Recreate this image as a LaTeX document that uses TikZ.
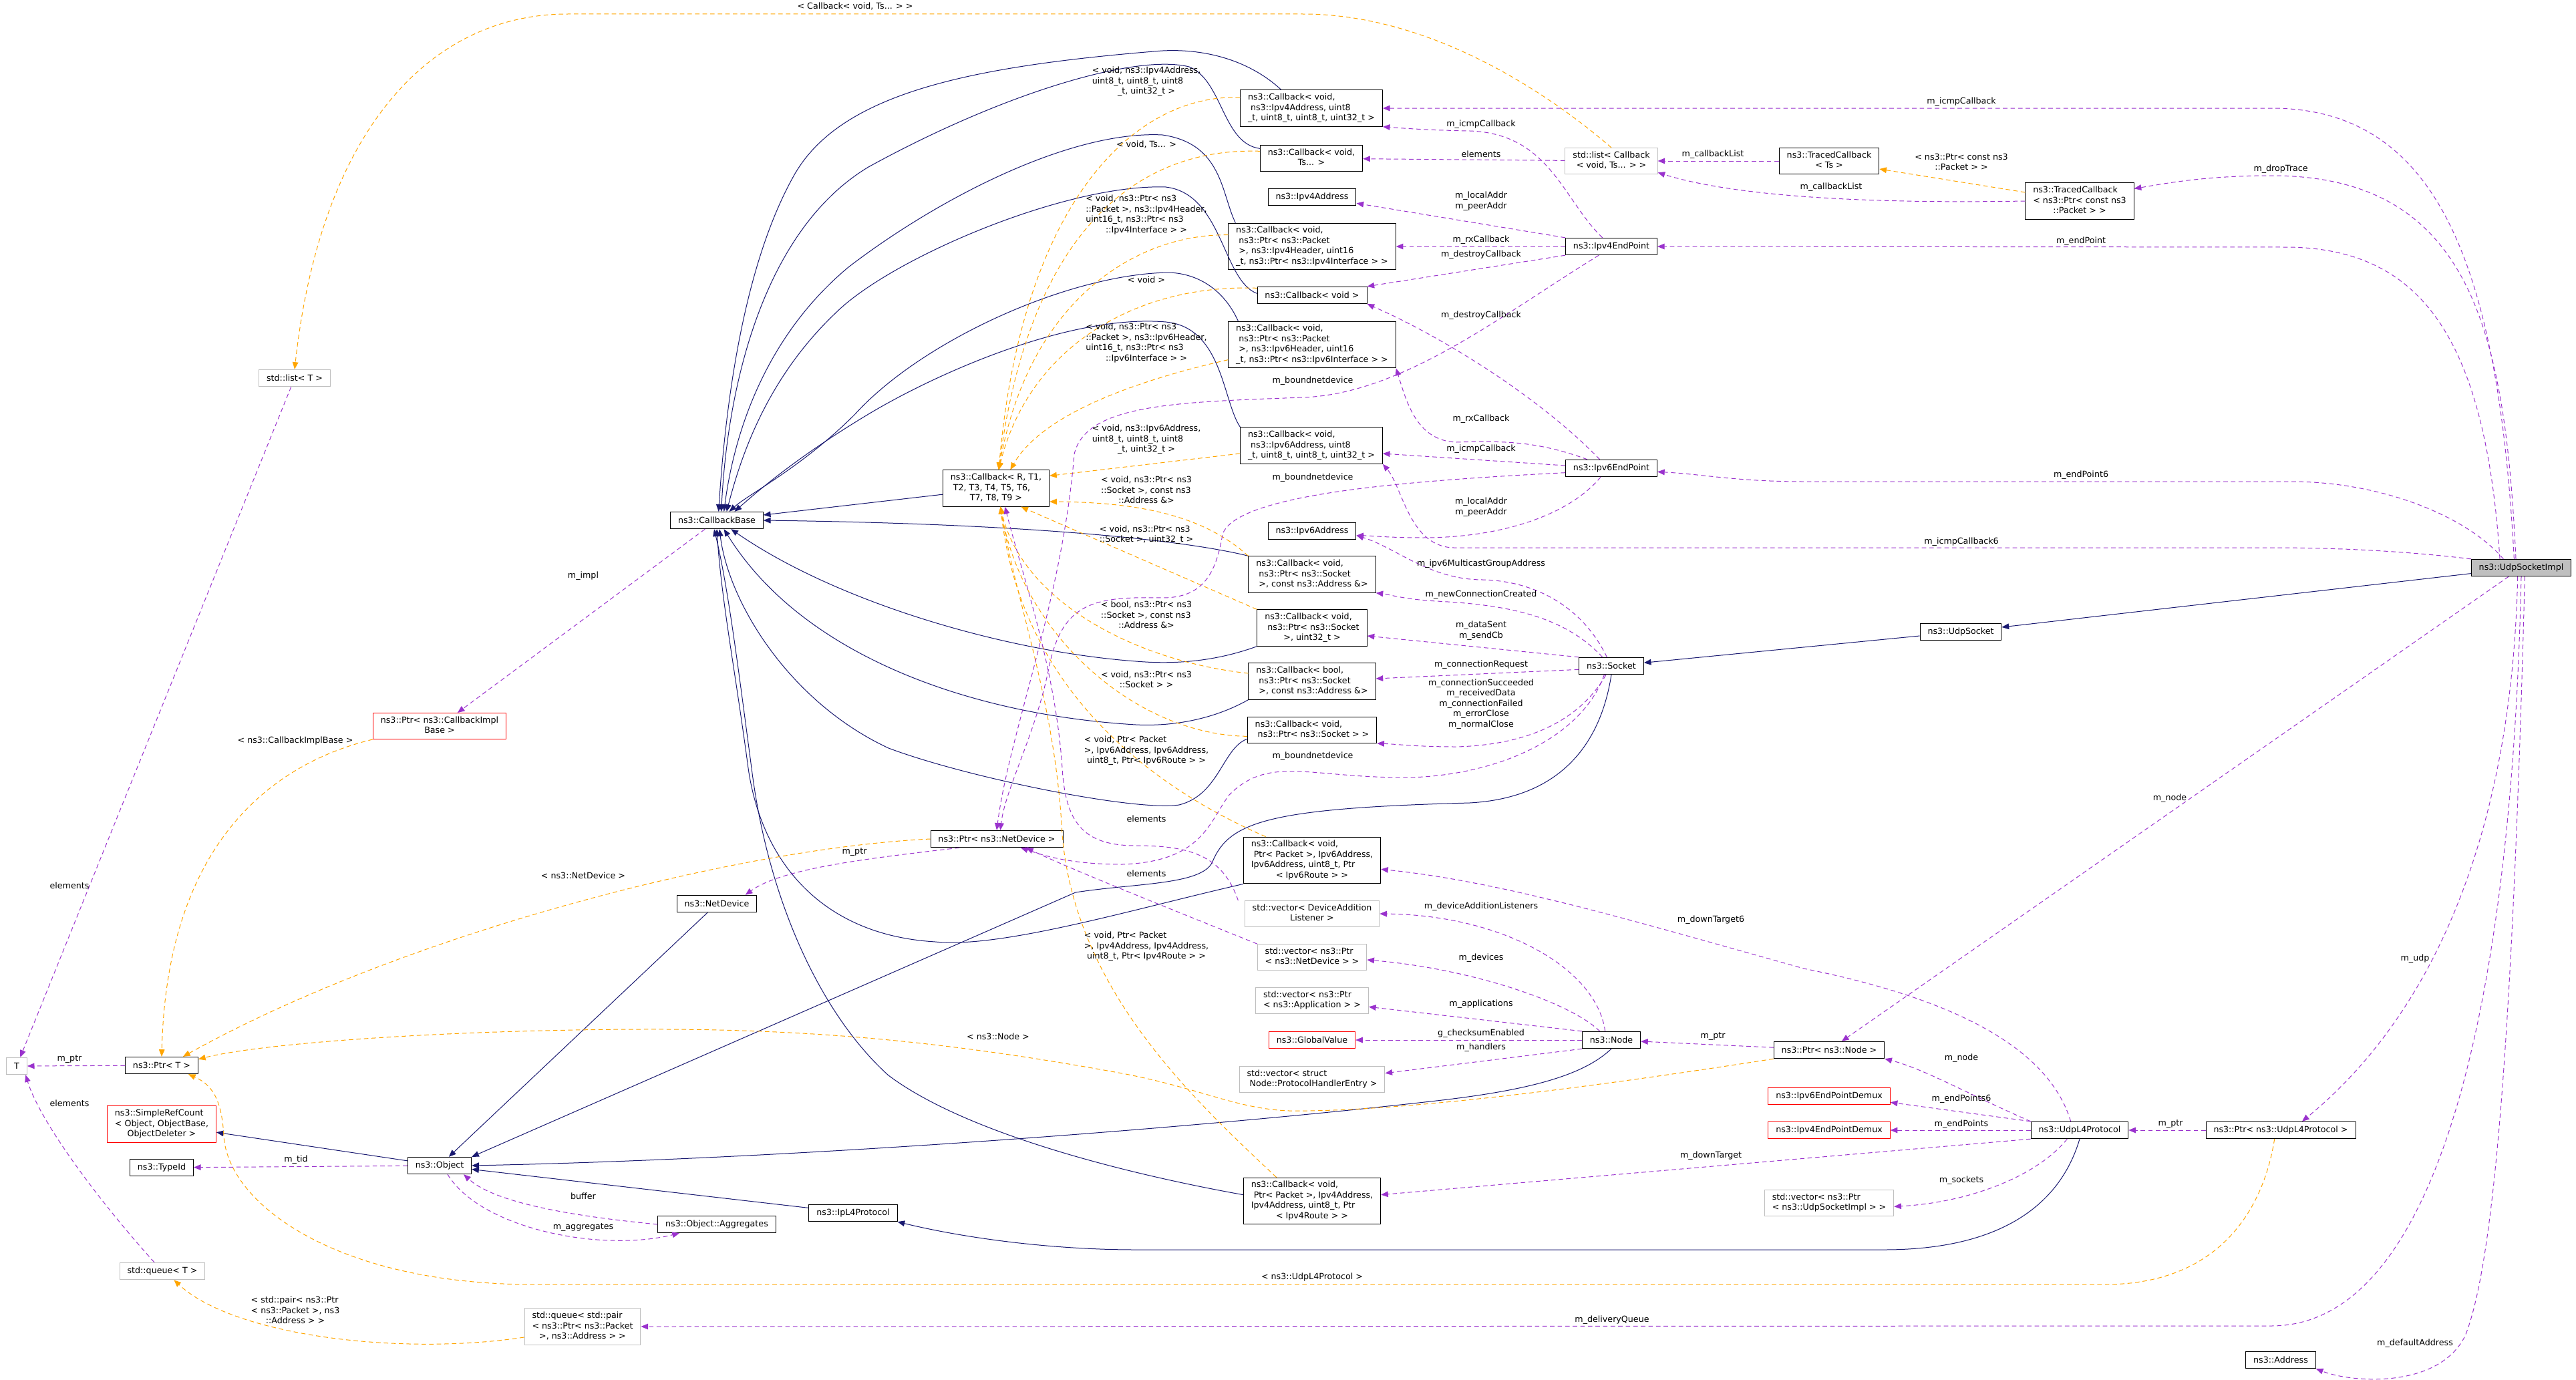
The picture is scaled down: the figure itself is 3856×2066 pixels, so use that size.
\documentclass[tikz,border=0pt]{standalone}
\usepackage{fontspec}
\setmainfont{DejaVu Sans}
\usepackage{tikz}
\usetikzlibrary{arrows.meta,positioning}
\definecolor{Navy}{HTML}{191970}
\definecolor{Orchid}{HTML}{9A32CD}
\definecolor{Amber}{HTML}{FFA500}
\definecolor{Frame}{HTML}{BFBFBF}
\definecolor{Cut}{HTML}{FF0000}
\newcommand{\gv}[2]{\begin{tabular}{@{}l@{}}#1\\\multicolumn{1}{@{}c@{}}{#2}\end{tabular}}

\begin{document}
\begin{tikzpicture}[
  x=0.75pt,y=-0.75pt,
  font=\fontsize{9.5}{11.6}\selectfont,
  cls/.style={draw=black,fill=white,line width=0.75pt,inner xsep=8.6pt,inner ysep=3pt,minimum height=19pt,align=center},
  ext/.style={cls,draw=Frame},
  trunc/.style={cls,draw=Cut},
  self/.style={cls,fill=Frame},
  wire/.style={-{Triangle[length=8pt,width=6.5pt]},line width=0.75pt},
  inh/.style={wire,draw=Navy},
  coll/.style={wire,draw=Orchid,dash pattern=on 5pt off 3.5pt},
  tmpl/.style={wire,draw=Amber,dash pattern=on 5pt off 3.5pt},
  lbl/.style={inner sep=0pt,align=center}
]
\useasboundingbox (0,0) rectangle (3856,2066);

\node[ext] (stdlistT) at (441,566) {std::list< T >};
\node[ext] (T) at (25,1596) {T};
\node[cls] (ptrT) at (242,1595) {ns3::Ptr< T >};
\node[trunc] (ptrImpl) at (658,1087) {\gv{ns3::Ptr< ns3::CallbackImpl}{Base >}};
\node[trunc] (refcount) at (242,1683) {\gv{ns3::SimpleRefCount\\< Object, ObjectBase,}{ObjectDeleter >}};
\node[cls] (typeid) at (242,1748) {ns3::TypeId};
\node[cls] (object) at (658,1745) {ns3::Object};
\node[cls] (aggregates) at (1073,1833) {ns3::Object::Aggregates};
\node[ext] (stdqueueT) at (243,1903) {std::queue< T >};
\node[ext] (queuePair) at (872,1986) {\gv{std::queue< std::pair\\< ns3::Ptr< ns3::Packet}{>, ns3::Address > >}};
\node[cls] (netdevice) at (1073,1353) {ns3::NetDevice};
\node[cls] (cbBase) at (1073,779) {ns3::CallbackBase};
\node[cls] (cbTmpl) at (1491,731) {\gv{ns3::Callback< R, T1,\\\ T2, T3, T4, T5, T6,}{T7, T8, T9 >}};
\node[cls] (ptrNetDev) at (1492,1256) {ns3::Ptr< ns3::NetDevice >};
\node[cls] (ipl4) at (1277,1816) {ns3::IpL4Protocol};

\node[cls] (cbIcmp4) at (1963,162) {\gv{ns3::Callback< void,\\\ ns3::Ipv4Address, uint8}{\_t, uint8\_t, uint8\_t, uint32\_t >}};
\node[cls] (cbTs) at (1963,237) {\gv{ns3::Callback< void,}{Ts... >}};
\node[cls] (ipv4addr) at (1964,295) {ns3::Ipv4Address};
\node[cls] (cbRx4) at (1964,369) {\gv{ns3::Callback< void,\\\ ns3::Ptr< ns3::Packet\\\ >, ns3::Ipv4Header, uint16}{\_t, ns3::Ptr< ns3::Ipv4Interface > >}};
\node[cls] (cbVoid) at (1964,442) {ns3::Callback< void >};
\node[cls] (cbRx6) at (1964,516) {\gv{ns3::Callback< void,\\\ ns3::Ptr< ns3::Packet\\\ >, ns3::Ipv6Header, uint16}{\_t, ns3::Ptr< ns3::Ipv6Interface > >}};
\node[cls] (cbIcmp6) at (1963,667) {\gv{ns3::Callback< void,\\\ ns3::Ipv6Address, uint8}{\_t, uint8\_t, uint8\_t, uint32\_t >}};
\node[cls] (ipv6addr) at (1964,795) {ns3::Ipv6Address};
\node[cls] (cbNewConn) at (1964,860) {\gv{ns3::Callback< void,\\\ ns3::Ptr< ns3::Socket}{\ >, const ns3::Address \&>}};
\node[cls] (cbSent) at (1964,940) {\gv{ns3::Callback< void,\\\ ns3::Ptr< ns3::Socket}{>, uint32\_t >}};
\node[cls] (cbConnReq) at (1964,1020) {\gv{ns3::Callback< bool,\\\ ns3::Ptr< ns3::Socket}{\ >, const ns3::Address \&>}};
\node[cls] (cbSock) at (1964,1093) {\gv{ns3::Callback< void,}{\ ns3::Ptr< ns3::Socket > >}};
\node[cls] (cbDown6) at (1964,1288) {\gv{ns3::Callback< void,\\\ Ptr< Packet >, Ipv6Address,\\Ipv6Address, uint8\_t, Ptr}{< Ipv6Route > >}};
\node[ext] (vecListener) at (1964,1368) {\gv{std::vector< DeviceAddition}{Listener >}};
\node[ext] (vecDev) at (1964,1433) {\gv{std::vector< ns3::Ptr}{< ns3::NetDevice > >}};
\node[ext] (vecApp) at (1964,1498) {\gv{std::vector< ns3::Ptr}{< ns3::Application > >}};
\node[trunc] (globalval) at (1964,1557) {ns3::GlobalValue};
\node[ext] (vecHandler) at (1964,1616) {\gv{std::vector< struct}{\ Node::ProtocolHandlerEntry >}};
\node[cls] (cbDown4) at (1964,1798) {\gv{ns3::Callback< void,\\\ Ptr< Packet >, Ipv4Address,\\Ipv4Address, uint8\_t, Ptr}{< Ipv4Route > >}};

\node[ext] (listCb) at (2412,241) {\gv{std::list< Callback}{< void, Ts... > >}};
\node[cls] (tracedTs) at (2738,241) {\gv{ns3::TracedCallback}{< Ts >}};
\node[cls] (tracedPkt) at (3113,301) {\gv{ns3::TracedCallback\\< ns3::Ptr< const ns3}{::Packet > >}};
\node[cls] (ep4) at (2412,369) {ns3::Ipv4EndPoint};
\node[cls] (ep6) at (2412,701) {ns3::Ipv6EndPoint};
\node[cls] (socket) at (2412,997) {ns3::Socket};
\node[cls] (udpsocket) at (2935,946) {ns3::UdpSocket};
\node[self] (impl) at (3774,850) {ns3::UdpSocketImpl};
\node[cls] (nsnode) at (2412,1557) {ns3::Node};
\node[cls] (ptrNode) at (2738,1572) {ns3::Ptr< ns3::Node >};
\node[trunc] (demux6) at (2738,1641) {ns3::Ipv6EndPointDemux};
\node[trunc] (demux4) at (2738,1692) {ns3::Ipv4EndPointDemux};
\node[cls] (udpl4) at (3113,1692) {ns3::UdpL4Protocol};
\node[cls] (ptrUdp) at (3414,1692) {ns3::Ptr< ns3::UdpL4Protocol >};
\node[ext] (vecSock) at (2738,1801) {\gv{std::vector< ns3::Ptr}{< ns3::UdpSocketImpl > >}};
\node[cls] (address) at (3414,2036) {ns3::Address};

\draw[inh] (impl) -- (udpsocket);
\draw[inh] (udpsocket) -- (socket);
\draw[inh] (socket.south) .. controls (2395,1120) and (2330,1195) .. (2200,1202) .. controls (1900,1210) and (1840,1230) .. (1815,1290) .. controls (1800,1325) and (1700,1322) .. (1610,1336) -- (object.north east);
\draw[inh] (nsnode.south) .. controls (2370,1610) and (2290,1632) .. (2150,1648) .. controls (1800,1688) and (1200,1735) .. (object.east);
\draw[inh] (netdevice) -- (object);
\draw[inh] (ipl4) -- (object);
\draw[inh] (udpl4.south) .. controls (3085,1800) and (3000,1871) .. (2820,1871) -- (1700,1871) .. controls (1580,1871) and (1450,1855) .. (ipl4.south east);
\draw[inh] (object) -- (refcount);
\draw[inh] (cbTmpl) -- (cbBase);
\draw[inh] ([xshift=-34pt]cbIcmp4.north) .. controls (1870,90) and (1800,70) .. (1727,77) .. controls (1450,100) and (1260,140) .. (1190,260) .. controls (1110,400) and (1085,620) .. ([xshift=2pt]cbBase.north);
\draw[inh] ([yshift=11pt]cbTs.west) .. controls (1830,215) and (1830,120) .. (1780,100) .. controls (1700,80) and (1500,140) .. (1300,250) .. controls (1150,340) and (1090,560) .. ([xshift=5pt]cbBase.north);
\draw[inh] ([xshift=-86pt]cbRx4.north) .. controls (1828,290) and (1830,215) .. (1740,202) .. controls (1600,195) and (1400,300) .. (1270,400) .. controls (1150,500) and (1100,640) .. ([xshift=8pt]cbBase.north);
\draw[inh] ([yshift=2pt]cbVoid.west) .. controls (1830,420) and (1830,290) .. (1745,280) .. controls (1600,275) and (1350,380) .. (1260,460) .. controls (1150,560) and (1110,680) .. ([xshift=11pt]cbBase.north);
\draw[inh] ([xshift=-83pt]cbRx6.north) .. controls (1835,440) and (1800,410) .. (1750,408) .. controls (1600,410) and (1380,510) .. (1280,620) .. controls (1200,700) and (1120,740) .. ([xshift=14pt]cbBase.north);
\draw[inh] ([xshift=-80pt]cbIcmp6.north) .. controls (1830,600) and (1830,490) .. (1745,482) .. controls (1600,470) and (1400,560) .. (1300,620) .. controls (1200,680) and (1140,730) .. ([xshift=20pt]cbBase.north);
\draw[inh] (cbNewConn.north west) .. controls (1800,815) and (1600,785) .. (cbBase.east);
\draw[inh] (cbSent.south west) .. controls (1820,990) and (1760,995) .. (1700,990) .. controls (1500,975) and (1250,900) .. ([xshift=16pt]cbBase.south);
\draw[inh] (cbConnReq.south west) .. controls (1820,1075) and (1760,1088) .. (1700,1085) .. controls (1450,1070) and (1200,980) .. ([xshift=8pt]cbBase.south);
\draw[inh] ([yshift=-10pt]cbSock.west) .. controls (1830,1120) and (1825,1190) .. (1765,1205) .. controls (1700,1215) and (1450,1165) .. (1330,1120) .. controls (1180,1050) and (1090,900) .. ([xshift=3pt]cbBase.south);
\draw[inh] (cbDown6.south west) .. controls (1700,1360) and (1500,1420) .. (1400,1410) .. controls (1230,1400) and (1140,1290) .. (1120,1150) .. controls (1100,1000) and (1080,900) .. (cbBase.south);
\draw[inh] ([yshift=7pt]cbDown4.west) .. controls (1700,1760) and (1450,1700) .. (1330,1610) .. controls (1230,1520) and (1150,1350) .. (1125,1150) .. controls (1105,1000) and (1090,880) .. ([xshift=-3pt]cbBase.south);

\draw[tmpl] (listCb.north) .. controls (2330,150) and (2150,21) .. (1950,21) -- (850,21) .. controls (640,21) and (480,200) .. (stdlistT.north) node[lbl] (t1) at (1280,9) {< Callback< void, Ts... > >};
\draw[tmpl] (tracedPkt) -- (tracedTs) node[lbl] (t2) at (2936,244) {\gv{< ns3::Ptr< const ns3}{::Packet > >}};
\draw[tmpl] (ptrImpl.south west) .. controls (420,1140) and (250,1250) .. (ptrT.north) node[lbl] (t3) at (442,1109) {< ns3::CallbackImplBase >};
\draw[tmpl] (ptrNetDev.west) .. controls (1100,1270) and (600,1400) .. ([xshift=24pt]ptrT.north) node[lbl] (t4) at (873,1311) {< ns3::NetDevice >};
\draw[tmpl] (ptrNode.south west) .. controls (2400,1625) and (2100,1665) .. (1930,1663) .. controls (1850,1660) and (1800,1630) .. (1680,1607) .. controls (1450,1565) and (1250,1542) .. (1000,1541) .. controls (700,1540) and (400,1560) .. ([yshift=7pt]ptrT.east) node[lbl] (t5) at (1494,1552) {< ns3::Node >};
\draw[tmpl] ([xshift=-7pt]ptrUdp.south) .. controls (3390,1800) and (3330,1923) .. (3150,1923) -- (800,1923) .. controls (500,1923) and (340,1800) .. (335,1700) .. controls (332,1650) and (320,1625) .. ([xshift=30pt]ptrT.south) node[lbl] (t6) at (1964,1912) {< ns3::UdpL4Protocol >};
\draw[tmpl] ([yshift=-12pt]queuePair.west) .. controls (600,2030) and (350,2000) .. ([xshift=13pt]stdqueueT.south) node[lbl] (t7) at (442,1963) {\gv{< std::pair< ns3::Ptr\\< ns3::Packet >, ns3}{::Address > >}};
\draw[tmpl] ([yshift=12pt]cbIcmp4.west) .. controls (1700,140) and (1530,300) .. ([xshift=3pt]cbTmpl.north) node[lbl] (t8) at (1716,122) {\gv{< void, ns3::Ipv4Address,\\uint8\_t, uint8\_t, uint8}{\_t, uint32\_t >}};
\draw[tmpl] ([yshift=8pt]cbTs.west) .. controls (1700,220) and (1540,350) .. ([xshift=3pt]cbTmpl.north) node[lbl] (t9) at (1716,216) {< void, Ts... >};
\draw[tmpl] ([yshift=13pt]cbRx4.west) .. controls (1700,350) and (1540,450) .. ([xshift=3pt]cbTmpl.north) node[lbl] (t10) at (1716,322) {\gv{< void, ns3::Ptr< ns3\\::Packet >, ns3::Ipv4Header,\\uint16\_t, ns3::Ptr< ns3}{::Ipv4Interface > >}};
\draw[tmpl] ([yshift=8pt]cbVoid.west) .. controls (1700,425) and (1540,520) .. ([xshift=3pt]cbTmpl.north) node[lbl] (t11) at (1716,419) {< void >};
\draw[tmpl] ([yshift=-17pt]cbRx6.west) .. controls (1700,570) and (1560,620) .. ([xshift=16pt]cbTmpl.north) node[lbl] (t12) at (1716,514) {\gv{< void, ns3::Ptr< ns3\\::Packet >, ns3::Ipv6Header,\\uint16\_t, ns3::Ptr< ns3}{::Ipv6Interface > >}};
\draw[tmpl] ([yshift=-9pt]cbIcmp6.west) -- ([yshift=14pt]cbTmpl.east) node[lbl] (t13) at (1716,658) {\gv{< void, ns3::Ipv6Address,\\uint8\_t, uint8\_t, uint8}{\_t, uint32\_t >}};
\draw[tmpl] (cbNewConn.north west) .. controls (1800,770) and (1700,752) .. ([yshift=-15pt]cbTmpl.east) node[lbl] (t14) at (1716,735) {\gv{< void, ns3::Ptr< ns3\\::Socket >, const ns3}{::Address \&>}};
\draw[tmpl] (cbSent.north west) -- ([xshift=28pt]cbTmpl.south) node[lbl] (t15) at (1716,801) {\gv{< void, ns3::Ptr< ns3}{::Socket >, uint32\_t >}};
\draw[tmpl] ([yshift=9pt]cbConnReq.west) .. controls (1700,990) and (1530,900) .. ([xshift=5pt]cbTmpl.south) node[lbl] (t16) at (1716,922) {\gv{< bool, ns3::Ptr< ns3\\::Socket >, const ns3}{::Address \&>}};
\draw[tmpl] ([yshift=-7pt]cbSock.west) .. controls (1700,1100) and (1530,950) .. ([xshift=5pt]cbTmpl.south) node[lbl] (t17) at (1716,1019) {\gv{< void, ns3::Ptr< ns3}{::Socket > >}};
\draw[tmpl] ([xshift=-52pt]cbDown6.north) .. controls (1750,1190) and (1530,1050) .. ([xshift=5pt]cbTmpl.south) node[lbl] (t18) at (1716,1124) {\gv{< void, Ptr< Packet\\>, Ipv6Address, Ipv6Address,}{uint8\_t, Ptr< Ipv6Route > >}};
\draw[tmpl] ([xshift=-40pt]cbDown4.north) .. controls (1780,1640) and (1610,1480) .. (1590,1250) .. controls (1580,1050) and (1520,900) .. ([xshift=5pt]cbTmpl.south) node[lbl] (t19) at (1716,1417) {\gv{< void, Ptr< Packet\\>, Ipv4Address, Ipv4Address,}{uint8\_t, Ptr< Ipv4Route > >}};

\draw[coll] ([xshift=-8pt]impl.north) .. controls (3740,400) and (3650,162) .. (3400,162) -- (cbIcmp4.east) node[lbl] (m1) at (2936,152) {m\_icmpCallback};
\draw[coll] ([xshift=-6pt]impl.north) .. controls (3750,500) and (3700,263) .. (3400,263) .. controls (3300,263) and (3240,275) .. ([yshift=14pt]tracedPkt.east) node[lbl] (m2) at (3414,253) {m\_dropTrace};
\draw[coll] ([xshift=-24pt]impl.north) .. controls (3720,500) and (3620,370) .. (3420,370) -- (ep4.east) node[lbl] (m3) at (3115,361) {m\_endPoint};
\draw[coll] ([xshift=-20pt]impl.north) .. controls (3690,770) and (3560,721) .. (3430,721) -- (2700,721) .. controls (2600,721) and (2550,710) .. ([yshift=-4pt]ep6.east) node[lbl] (m4) at (3115,711) {m\_endPoint6};
\draw[coll] (impl.north west) .. controls (3600,825) and (3500,820) .. (3400,820) -- (2180,820) .. controls (2110,822) and (2100,730) .. (cbIcmp6.south east) node[lbl] (m5) at (2936,811) {m\_icmpCallback6};
\draw[coll] (impl) -- (ptrNode) node[lbl] (m6) at (3248,1195) {m\_node};
\draw[coll] ([xshift=-4pt]impl.south) .. controls (3760,1250) and (3640,1520) .. ([xshift=24pt]ptrUdp.north) node[lbl] (m7) at (3615,1435) {m\_udp};
\draw[coll] (impl.south) .. controls (3760,1500) and (3650,1985) .. (3400,1985) -- (queuePair.east) node[lbl] (m8) at (2413,1976) {m\_deliveryQueue};
\draw[coll] ([xshift=4pt]impl.south) .. controls (3760,1600) and (3730,1900) .. (3690,2000) .. controls (3650,2080) and (3520,2070) .. (address.south east) node[lbl] (m9) at (3615,2011) {m\_defaultAddress};
\draw[coll] ([xshift=-10pt]ep4.north) .. controls (2340,300) and (2320,200) .. (2200,196) .. controls (2140,195) and (2100,192) .. (cbIcmp4.south east) node[lbl] (m10) at (2217,186) {m\_icmpCallback};
\draw[coll] (listCb) -- (cbTs) node[lbl] (m11) at (2217,231) {elements};
\draw[coll] (tracedTs) -- (listCb) node[lbl] (m12) at (2564,231) {m\_callbackList};
\draw[coll] (tracedPkt.west) .. controls (2800,305) and (2600,295) .. ([yshift=-13pt]listCb.east) node[lbl] (m13) at (2741,280) {m\_callbackList};
\draw[coll] (ep4.north west) -- ([yshift=-7pt]ipv4addr.east) node[lbl] (m14) at (2217,301) {m\_localAddr\\m\_peerAddr};
\draw[coll] (ep4) -- (cbRx4) node[lbl] (m15) at (2217,359) {m\_rxCallback};
\draw[coll] (ep4.south west) -- (cbVoid.north east) node[lbl] (m16) at (2217,381) {m\_destroyCallback};
\draw[coll] ([xshift=-14pt]ep4.south) .. controls (2250,470) and (2100,590) .. (1950,595) .. controls (1760,602) and (1625,605) .. (1608,680) .. controls (1590,900) and (1510,1100) .. (ptrNetDev.north) node[lbl] (m17) at (1965,570) {m\_boundnetdevice};
\draw[coll] ([xshift=-27pt]ep6.north) .. controls (2300,660) and (2250,660) .. (2180,662) .. controls (2120,660) and (2105,600) .. (cbRx6.south east) node[lbl] (m18) at (2217,627) {m\_rxCallback};
\draw[coll] ([yshift=3pt]ep6.west) -- ([yshift=-9pt]cbIcmp6.east) node[lbl] (m19) at (2217,672) {m\_icmpCallback};
\draw[coll] ([xshift=-13pt]ep6.north) .. controls (2300,590) and (2150,500) .. (cbVoid.south east) node[lbl] (m20) at (2217,472) {m\_destroyCallback};
\draw[coll] ([xshift=-12pt]ep6.south) .. controls (2350,770) and (2250,805) .. (2130,805) .. controls (2080,805) and (2050,802) .. ([yshift=-5pt]ipv6addr.east) node[lbl] (m21) at (2217,759) {m\_localAddr\\m\_peerAddr};
\draw[coll] ([yshift=-5pt]ep6.west) .. controls (2100,720) and (1850,740) .. (1830,800) .. controls (1820,860) and (1800,895) .. (1740,895) .. controls (1640,893) and (1590,900) .. (1570,1000) .. controls (1550,1100) and (1505,1180) .. ([xshift=4pt]ptrNetDev.north) node[lbl] (m22) at (1965,715) {m\_boundnetdevice};
\draw[coll] ([xshift=-5pt]socket.north) .. controls (2370,910) and (2300,870) .. (2220,868) .. controls (2140,868) and (2090,820) .. ([yshift=-5pt]ipv6addr.east) node[lbl] (m23) at (2217,844) {m\_ipv6MulticastGroupAddress};
\draw[coll] ([xshift=-10pt]socket.north) .. controls (2340,920) and (2250,905) .. (2150,900) .. controls (2100,897) and (2080,890) .. (cbNewConn.south east) node[lbl] (m24) at (2217,890) {m\_newConnectionCreated};
\draw[coll] (socket.north west) -- ([yshift=-9pt]cbSent.east) node[lbl] (m25) at (2217,944) {m\_dataSent\\m\_sendCb};
\draw[coll] ([yshift=-4pt]socket.west) -- ([yshift=3pt]cbConnReq.east) node[lbl] (m26) at (2217,995) {m\_connectionRequest};
\draw[coll] ([xshift=-6pt]socket.south) .. controls (2370,1070) and (2300,1115) .. (2180,1118) .. controls (2120,1118) and (2090,1114) .. (cbSock.south east) node[lbl] (m27) at (2217,1054) {m\_connectionSucceeded\\m\_receivedData\\m\_connectionFailed\\m\_errorClose\\m\_normalClose};
\draw[coll] ([xshift=-8pt]socket.south) .. controls (2370,1100) and (2250,1160) .. (2110,1164) .. controls (1960,1165) and (1900,1130) .. (1840,1190) .. controls (1810,1230) and (1800,1290) .. (1680,1294) .. controls (1600,1294) and (1560,1280) .. ([xshift=27pt]ptrNetDev.south) node[lbl] (m28) at (1965,1132) {m\_boundnetdevice};
\draw[coll] ([xshift=-7pt]nsnode.north) .. controls (2390,1450) and (2250,1370) .. (vecListener.east) node[lbl] (m29) at (2217,1357) {m\_deviceAdditionListeners};
\draw[coll] ([xshift=-13pt]nsnode.north) .. controls (2350,1500) and (2200,1450) .. ([yshift=-3pt]vecDev.east) node[lbl] (m30) at (2217,1434) {m\_devices};
\draw[coll] (nsnode.north west) -- ([yshift=-7pt]vecApp.east) node[lbl] (m31) at (2217,1503) {m\_applications};
\draw[coll] (nsnode) -- (globalval) node[lbl] (m32) at (2217,1547) {g\_checksumEnabled};
\draw[coll] (nsnode.south west) -- ([yshift=7pt]vecHandler.east) node[lbl] (m33) at (2217,1568) {m\_handlers};
\draw[coll] (ptrNode) -- (nsnode) node[lbl] (m34) at (2564,1552) {m\_ptr};
\draw[coll] ([xshift=-42pt]ptrNetDev.south) .. controls (1300,1285) and (1170,1300) .. ([xshift=32pt]netdevice.north) node[lbl] (m35) at (1279,1276) {m\_ptr};
\draw[coll] (vecDev.north west) .. controls (1750,1360) and (1600,1300) .. ([xshift=33pt]ptrNetDev.south) node[lbl] (m36) at (1716,1308) {elements};
\draw[coll] ([xshift=-83pt]vecListener.north) .. controls (1830,1280) and (1780,1266) .. (1700,1266) .. controls (1620,1266) and (1595,1230) .. (1590,1150) .. controls (1580,1000) and (1530,860) .. ([xshift=10pt]cbTmpl.south) node[lbl] (m37) at (1716,1226) {elements};
\draw[coll] (udpl4.north west) .. controls (2950,1640) and (2880,1600) .. (ptrNode.south east) node[lbl] (m38) at (2936,1584) {m\_node};
\draw[coll] (udpl4.north west) -- ([yshift=-7pt]demux6.east) node[lbl] (m39) at (2936,1645) {m\_endPoints6};
\draw[coll] (udpl4) -- (demux4) node[lbl] (m40) at (2936,1683) {m\_endPoints};
\draw[coll] (udpl4.south west) -- ([yshift=7pt]cbDown4.east) node[lbl] (m41) at (2561,1730) {m\_downTarget};
\draw[coll] ([xshift=-10pt]udpl4.north) .. controls (3070,1580) and (2950,1500) .. (2700,1450) .. controls (2450,1380) and (2250,1320) .. ([yshift=-10pt]cbDown6.east) node[lbl] (m42) at (2561,1377) {m\_downTarget6};
\draw[coll] ([xshift=-14pt]udpl4.south) .. controls (3050,1760) and (2950,1800) .. ([yshift=-4pt]vecSock.east) node[lbl] (m43) at (2936,1767) {m\_sockets};
\draw[coll] (ptrUdp) -- (udpl4) node[lbl] (m44) at (3249,1683) {m\_ptr};
\draw[coll] (ptrT) -- (T) node[lbl] (m45) at (104,1586) {m\_ptr};
\draw[coll] (stdlistT) -- (T) node[lbl] (m46) at (104,1326) {elements};
\draw[coll] ([xshift=-9pt]stdqueueT.north) .. controls (150,1800) and (60,1680) .. ([xshift=10pt]T.south) node[lbl] (m47) at (104,1652) {elements};
\draw[coll] (cbBase) -- (ptrImpl) node[lbl] (m48) at (873,862) {m\_impl};
\draw[coll] (object) -- (typeid) node[lbl] (m49) at (443,1736) {m\_tid};
\draw[coll] (aggregates.west) .. controls (850,1820) and (740,1800) .. ([xshift=27pt]object.south) node[lbl] (m50) at (873,1791) {buffer};
\draw[coll] ([xshift=9pt]object.south) .. controls (720,1840) and (900,1875) .. ([xshift=-42pt]aggregates.south) node[lbl] (m51) at (873,1838) {m\_aggregates};
\end{tikzpicture}
\end{document}
